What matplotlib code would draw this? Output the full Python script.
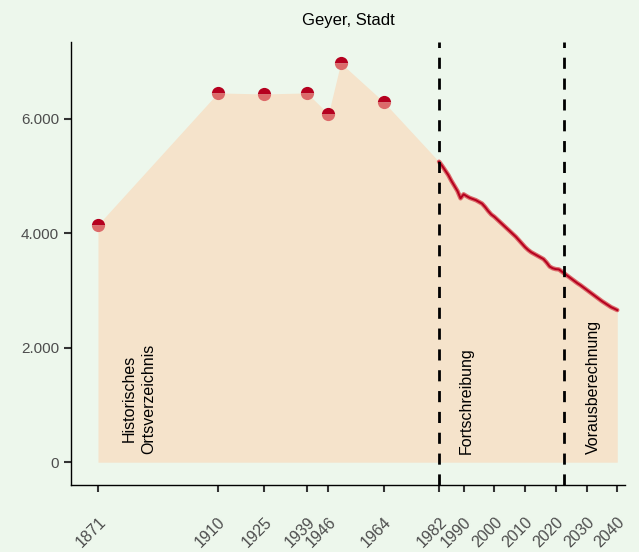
import numpy as np
import matplotlib
matplotlib.use("Agg")
from matplotlib import pyplot as plt
from matplotlib.ticker import FuncFormatter

# Historical census points
hist_years = [1871, 1910, 1925, 1939, 1946, 1950, 1964]
hist_pop = [4150, 6455, 6437, 6455, 6087, 6979, 6297]

# Annual values (Fortschreibung 1982-2022, Vorausberechnung from 2023)
line_years = list(range(1982, 2041))
line_pop = [5253, 5180, 5100, 5020, 4920, 4830, 4740, 4613, 4683, 4650,
            4620, 4600, 4580, 4550, 4520, 4460, 4390, 4330, 4290, 4240,
            4190, 4140, 4090, 4040, 3990, 3940, 3880, 3820, 3760, 3710,
            3670, 3640, 3610, 3580, 3550, 3490, 3420, 3390, 3375, 3370,
            3330, 3290, 3250, 3210, 3170, 3130, 3095, 3055, 3015, 2975,
            2935, 2895, 2855, 2815, 2780, 2745, 2710, 2685, 2659]

tick_years = [1871, 1910, 1925, 1939, 1946, 1964, 1982, 1990, 2000, 2010,
              2020, 2030, 2040]
breaks = [1982, 2022.8]
labels = ["Historisches\nOrtsverzeichnis", "Fortschreibung", "Vorausberechnung"]
label_x = [1884.4, 1991, 2032.4]

bg = "#edf7ec"
fill_col = "#f5e3cb"
dark = "#b5001f"
light = "#dc6a6a"

plt.rcParams['font.family'] = ['Liberation Sans', 'DejaVu Sans']

fig = plt.figure(figsize=(6.39, 5.52), dpi=100, facecolor=bg)
ax = fig.add_axes([0.111, 0.121, 0.867, 0.803], facecolor=bg)

all_x = hist_years + line_years
all_y = hist_pop + line_pop
ax.fill_between(all_x, 0, all_y, color=fill_col, lw=0, zorder=1)

ax.plot(line_years, line_pop, color=light, lw=3.2, zorder=3, solid_capstyle="round")
ax.plot(line_years, line_pop, color=dark, lw=1.4, zorder=4)

ax.plot(hist_years, hist_pop, ls="none", marker="o", ms=9.5, mew=0,
        color=dark, fillstyle="top", markerfacecoloralt=light, zorder=5)

for b in breaks:
    ax.axvline(b, color="black", ls=(0, (4, 3.5)), lw=2, zorder=6)

for lx, txt in zip(label_x, labels):
    ax.text(lx, 150, txt, rotation=90, ha="center", va="bottom", fontsize=11.5,
            linespacing=1.4, zorder=7)

ax.set_xlim(1862.2, 2042.5)
ax.set_ylim(-402, 7346)
ax.set_xticks(tick_years)
ax.set_xticklabels([str(y) for y in tick_years], rotation=45, ha="right",
                   rotation_mode="anchor", fontsize=11.5, color="#4d4d4d")
ax.set_yticks([0, 2000, 4000, 6000])
ax.yaxis.set_major_formatter(FuncFormatter(lambda v, p: f"{int(v):,}".replace(",", ".")))
ax.tick_params(axis="y", labelsize=11, labelcolor="#4d4d4d", color="#333333",
               length=5, width=1.5)
ax.tick_params(axis="x", color="#333333", length=5, width=1.5, pad=16)

for s in ["top", "right"]:
    ax.spines[s].set_visible(False)
for s in ["left", "bottom"]:
    ax.spines[s].set_linewidth(1)

ax.set_title("Geyer, Stadt", fontsize=12, pad=12)

fig.savefig("out.png", dpi=100, facecolor=bg)
